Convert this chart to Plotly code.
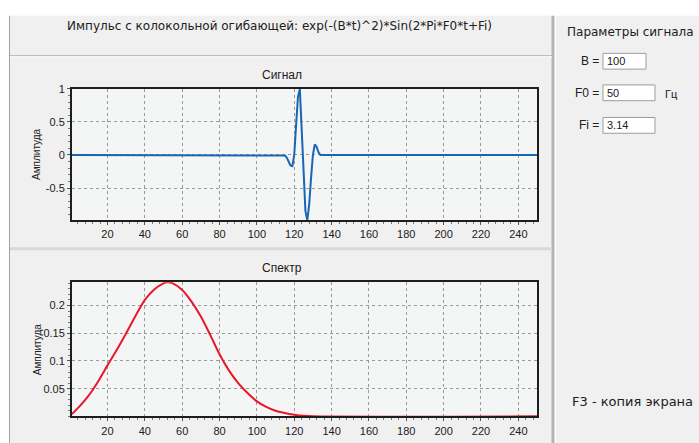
import plotly.graph_objects as go

W, H = 699, 443

# ---------------- data ----------------
signal_t = [1, 114, 115, 116, 117, 118, 119, 120, 121, 122, 123, 124, 125, 126,
            127, 128, 129, 130, 131, 132, 133, 134, 135, 250]
signal_v = [0.0, 0.0, -0.01, -0.04, -0.10, -0.16, -0.17, 0.0, 0.45, 0.88, 1.0, 0.42,
            -0.30, -0.85, -0.985, -0.75, -0.35, 0.0, 0.16, 0.12, 0.04, 0.0, 0.0, 0.0]

spec_f = [1, 5, 10, 15, 20, 25, 30, 35, 40, 45, 50, 52, 55, 60, 65, 70, 75, 80,
          85, 90, 95, 100, 105, 110, 115, 120, 125, 130, 250]
spec_v = [0.004, 0.018, 0.038, 0.063, 0.092, 0.120, 0.150, 0.181, 0.210, 0.229,
          0.240, 0.242, 0.240, 0.228, 0.207, 0.180, 0.147, 0.112, 0.083, 0.060,
          0.042, 0.027, 0.017, 0.010, 0.006, 0.003, 0.001, 0.0, 0.0]

x_ticks = [20, 40, 60, 80, 100, 120, 140, 160, 180, 200, 220, 240]
sig_ticks = [-0.5, 0, 0.5, 1]
sig_labels = ["-0.5", "0", "0.5", "1"]
spec_ticks = [0.05, 0.1, 0.15, 0.2]
spec_labels = ["0.05", "0.1", "0.15", "0.2"]

header = "Импульс с колокольной огибающей: exp(-(B*t)^2)*Sin(2*Pi*F0*t+Fi)"
params_title = "Параметры сигнала"
param_names = ["B =", "F0 =", "Fi ="]
param_values = ["100", "50", "3.14"]

# ---------------- helpers ----------------
def X(px):
    return px / W

def Y(py):
    return 1 - py / H

FONT = "Liberation Sans"
WIDEFONT = "DejaVu Sans"
TXT = "#202020"
PANEL = "#f0f0f0"
PLOTBG = "#f4f5f5"

fig = go.Figure()
fig.add_trace(go.Scatter(x=signal_t, y=signal_v, mode="lines",
                         line=dict(color="#1866b4", width=2), xaxis="x", yaxis="y",
                         showlegend=False, hoverinfo="skip"))
fig.add_trace(go.Scatter(x=spec_f, y=spec_v, mode="lines",
                         line=dict(color="#e8182a", width=2, shape="spline", smoothing=0.8),
                         xaxis="x2", yaxis="y2", showlegend=False, hoverinfo="skip"))

axis_common = dict(
    showline=True, mirror=True, linecolor="#1e1e1e", linewidth=2,
    showgrid=True, gridcolor="#9a9a9a", gridwidth=1, griddash="3px,3px",
    zeroline=False, ticks="outside", ticklen=3, tickcolor="#555",
    tickfont=dict(family=FONT, size=11, color=TXT), fixedrange=True,
)

sig_x = dict(axis_common, domain=[X(72), X(537)], range=[1, 250],
             tickmode="array", tickvals=x_ticks, anchor="y",
             minor=dict(tickmode="linear", tick0=0, dtick=4, ticks="outside",
                        ticklen=2, tickcolor="#777", showgrid=False))
spec_x = dict(sig_x, anchor="y2")
sig_y = dict(axis_common, domain=[Y(217), Y(84)], range=[-0.985, 1.0],
             tickmode="array", tickvals=sig_ticks, ticktext=sig_labels, anchor="x",
             minor=dict(tickmode="linear", tick0=0, dtick=0.1, ticks="outside",
                        ticklen=2, tickcolor="#777", showgrid=False))
spec_y = dict(axis_common, domain=[Y(416), Y(280)], range=[0, 0.242],
              tickmode="array", tickvals=spec_ticks, ticktext=spec_labels, anchor="x2",
              minor=dict(tickmode="linear", tick0=0, dtick=0.01, ticks="outside",
                         ticklen=2, tickcolor="#777", showgrid=False))

shapes = [
    # left main panel
    dict(type="rect", xref="paper", yref="paper", x0=X(9), x1=X(553), y0=Y(443), y1=Y(10),
         fillcolor=PANEL, line=dict(width=0), layer="below"),
    # plot areas
    dict(type="rect", xref="paper", yref="paper", x0=X(72), x1=X(537), y0=Y(217), y1=Y(84),
         fillcolor=PLOTBG, line=dict(width=0), layer="below"),
    dict(type="rect", xref="paper", yref="paper", x0=X(72), x1=X(537), y0=Y(416), y1=Y(280),
         fillcolor=PLOTBG, line=dict(width=0), layer="below"),
    # right panel
    dict(type="rect", xref="paper", yref="paper", x0=X(556), x1=X(699), y0=Y(443), y1=Y(10),
         fillcolor=PANEL, line=dict(width=0), layer="below"),
    # left border line
    dict(type="line", xref="paper", yref="paper", x0=X(9.5), x1=X(9.5), y0=Y(443), y1=Y(10),
         line=dict(color="#a0a0a0", width=1), layer="below"),
    # vertical separator
    dict(type="line", xref="paper", yref="paper", x0=X(553), x1=X(553), y0=Y(443), y1=Y(10),
         line=dict(color="#b4b4b4", width=3), layer="below"),
    # horizontal separators
    dict(type="line", xref="paper", yref="paper", x0=X(10), x1=X(552), y0=Y(50.5), y1=Y(50.5),
         line=dict(color="#a8a8a8", width=1), layer="below"),
    dict(type="line", xref="paper", yref="paper", x0=X(10), x1=X(552), y0=Y(51.5), y1=Y(51.5),
         line=dict(color="#ffffff", width=1), layer="below"),
    dict(type="line", xref="paper", yref="paper", x0=X(10), x1=X(552), y0=Y(246), y1=Y(246),
         line=dict(color="#d8d8d8", width=3), layer="below"),
]

annotations = [
    dict(text=header, x=X(279), y=Y(20), xref="paper", yref="paper", showarrow=False,
         font=dict(family=WIDEFONT, size=12, color=TXT), xanchor="center", yanchor="middle"),
    dict(text="Сигнал", x=X(282), y=Y(70), xref="paper", yref="paper", showarrow=False,
         font=dict(family=FONT, size=12, color=TXT), xanchor="center", yanchor="middle"),
    dict(text="Спектр", x=X(282), y=Y(266), xref="paper", yref="paper", showarrow=False,
         font=dict(family=FONT, size=12, color=TXT), xanchor="center", yanchor="middle"),
    dict(text="Амплитуда", x=X(37), y=Y(150), xref="paper", yref="paper", showarrow=False,
         textangle=-90, font=dict(family=FONT, size=10, color=TXT),
         xanchor="center", yanchor="middle"),
    dict(text="Амплитуда", x=X(37), y=Y(348), xref="paper", yref="paper", showarrow=False,
         textangle=-90, font=dict(family=FONT, size=10, color=TXT),
         xanchor="center", yanchor="middle"),
    dict(text=params_title, x=X(630), y=Y(26), xref="paper", yref="paper", showarrow=False,
         font=dict(family=WIDEFONT, size=12, color=TXT), xanchor="center", yanchor="middle"),
    dict(text="Гц", x=X(671), y=Y(89), xref="paper", yref="paper", showarrow=False,
         font=dict(family=FONT, size=11, color=TXT), xanchor="center", yanchor="middle"),
    dict(text="F3 - копия экрана", x=X(632), y=Y(401), xref="paper", yref="paper",
         showarrow=False, font=dict(family=WIDEFONT, size=13, color=TXT),
         xanchor="center", yanchor="middle"),
]

# parameter input boxes
box_rows = [(56, 646), (88, 655), (121, 655)]
for (yc, xr), name, val in zip(box_rows, param_names, param_values):
    y0, y1 = yc - 8, yc + 8
    shapes.append(dict(type="rect", xref="paper", yref="paper", x0=X(603), x1=X(xr),
                       y0=Y(y1), y1=Y(y0), fillcolor="#ffffff",
                       line=dict(color="#9c9c9c", width=1), layer="below"))
    annotations.append(dict(text=name, x=X(601), y=Y(yc), xref="paper", yref="paper",
                            showarrow=False, xanchor="right", yanchor="middle",
                            font=dict(family=FONT, size=12, color=TXT)))
    annotations.append(dict(text=val, x=X(605), y=Y(yc), xref="paper", yref="paper",
                            showarrow=False, xanchor="left", yanchor="middle",
                            font=dict(family=FONT, size=11, color=TXT)))

fig.update_layout(
    width=W, height=H, margin=dict(l=0, r=0, t=0, b=0),
    paper_bgcolor="#ffffff", plot_bgcolor="rgba(0,0,0,0)",
    xaxis=sig_x, yaxis=sig_y, xaxis2=spec_x, yaxis2=spec_y,
    shapes=shapes, annotations=annotations, showlegend=False,
)

fig.write_html(
    "out.html",
    config={"displayModeBar": False},
    post_script=(
        "document.documentElement.style.margin='0';"
        "document.documentElement.style.padding='0';"
        "document.body.style.margin='0';document.body.style.padding='0';"
        "document.body.style.overflow='hidden';"
        "var d=document.getElementById('{plot_id}');"
        "d.style.position='fixed';d.style.top='0px';d.style.left='0px';"
    ),
)
